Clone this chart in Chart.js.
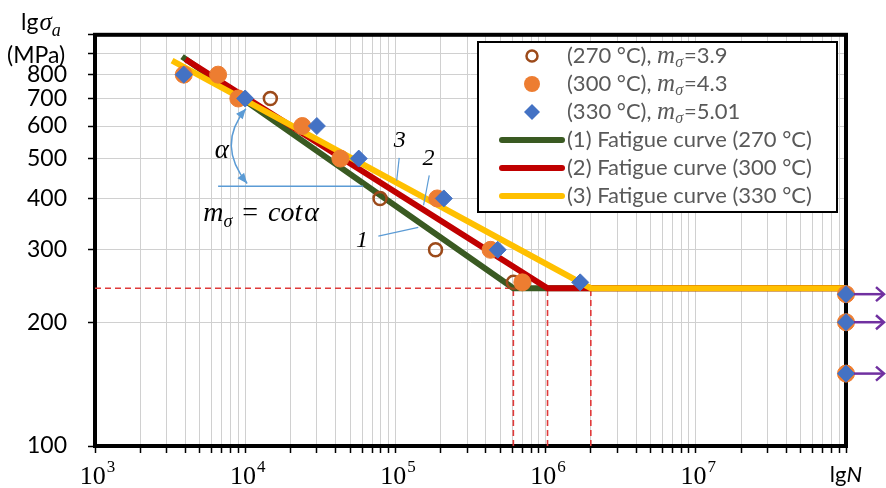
<!DOCTYPE html>
<html>
<head>
<meta charset="utf-8">
<script src="https://cdn.jsdelivr.net/npm/chart.js@4.4.1/dist/chart.umd.min.js"></script>
<style>
html, body { margin: 0; padding: 0; background: #fff; }
#wrap { width: 886px; height: 488px; }
</style>
</head>
<body>
<div id="wrap"><canvas id="chart" width="886" height="488"></canvas></div>
<script>
// test points: cycles to failure N and stress amplitude (MPa)
var brownN = [3.9e3, 1.47e4, 7.9e4, 1.85e5, 6.1e5];
var brownS = [800, 700, 400, 300, 250];
var orangeN = [3.9e3, 6.6e3, 9.0e3, 2.4e4, 4.3e4, 1.9e5, 4.3e5, 7.0e5, 1e8, 1e8, 1e8];
var orangeS = [800, 800, 700, 600, 500, 400, 300, 250, 234, 200, 150];
var blueN = [3.9e3, 1.0e4, 3.0e4, 5.7e4, 2.1e5, 4.8e5, 1.7e6, 1e8, 1e8, 1e8];
var blueS = [800, 700, 600, 500, 400, 300, 250, 234, 200, 150];

// fatigue curves (start, knee, end)
var curve1N = [3.8e3, 6.1e5, 1e8];
var curve1S = [885, 242, 242];
var curve2N = [4.0e3, 1.03e6, 1e8];
var curve2S = [872, 242, 242];
var curve3N = [3.26e3, 2.0e6, 1e8];
var curve3S = [865, 242, 242];

var enduranceLimit = 242;
var kneeN = [6.1e5, 1.03e6, 2.0e6];
var runOutN = 1e8;

var pointLabels = ['(270 \u00b0C), ', '(300 \u00b0C), ', '(330 \u00b0C), '];
var slopeValues = ['3.9', '4.3', '5.01'];
var curveLabels = ['(1) Fatigue curve (270 \u00b0C)', '(2) Fatigue curve (300 \u00b0C)', '(3) Fatigue curve (330 \u00b0C)'];

var yTicks = [100, 200, 300, 400, 500, 600, 700, 800, 900, 1000];
var yLabelMax = 800;
var xTicks = [];
[1e3, 1e4, 1e5, 1e6, 1e7].forEach(function(d) {
    for (var k = 1; k < 10; k++) xTicks.push(d * k);
});
xTicks.push(1e8);
var xDecades = [1e3, 1e4, 1e5, 1e6, 1e7];
var xDecadeExp = ['3', '4', '5', '6', '7'];

// annotation anchors in data space [N, MPa]
var refLine = { n0: 6.6e3, n1: 6.1e4, s: 428 };
var arcPts = [[1.01e4, 661], [6.4e3, 540], [1.03e4, 435]];
var alphaAt = [7.0e3, 523];
var formulaAt = [5.25e3, 368];
var curveTags = [
    { t: '1', at: [6.0e4, 316], from: [7.7e4, 324], to: [1.42e5, 340] },
    { t: '2', at: [1.66e5, 500], from: [1.68e5, 455], to: [1.54e5, 385] },
    { t: '3', at: [1.07e5, 553], from: [1.06e5, 502], to: [1.02e5, 442] }
];

var colors = {
    brown: '#9c4a1a', orange: '#ed7d31', blue: '#4472c4',
    green: '#3a5a22', red: '#c00000', yellow: '#ffc000',
    dash: '#e03a3a', note: '#5b9bd5', purple: '#7030a0', grid: '#d0d0d0'
};

function pairs(xs, ys) {
    return xs.map(function(x, i) { return { x: x, y: ys[i] }; });
}

function curveSet(label, xs, ys, color) {
    return { label: label, data: pairs(xs, ys), showLine: true, borderColor: color,
             borderWidth: 6, pointRadius: 0, borderCapStyle: 'butt' };
}

function dashSet(data) {
    return { label: '', data: data, showLine: true, borderColor: colors.dash, borderWidth: 1.6,
             borderDash: [6, 4], pointRadius: 0 };
}

var datasets = [
    { label: 'p330', data: pairs(blueN, blueS), pointStyle: 'rectRot', pointRadius: 8.5,
      backgroundColor: colors.blue, borderColor: colors.blue, borderWidth: 1, clip: false },
    { label: 'p300', data: pairs(orangeN, orangeS), pointStyle: 'circle', pointRadius: 8.5,
      backgroundColor: colors.orange, borderColor: colors.orange, borderWidth: 1, clip: false },
    { label: 'p270', data: pairs(brownN, brownS), pointStyle: 'circle', pointRadius: 6.5,
      backgroundColor: 'rgba(255,255,255,0)', borderColor: colors.brown, borderWidth: 2.5, clip: false },
    curveSet('c3', curve3N, curve3S, colors.yellow),
    curveSet('c2', curve2N, curve2S, colors.red),
    curveSet('c1', curve1N, curve1S, colors.green),
    dashSet([{ x: 1e3, y: enduranceLimit }, { x: kneeN[2], y: enduranceLimit }])
];
kneeN.forEach(function(n) {
    datasets.push(dashSet([{ x: n, y: 100 }, { x: n, y: enduranceLimit }]));
});

// draws frame, annotations, legend and the x labels
var decorPlugin = {
    id: 'decor',
    beforeDatasetsDraw: function(chart) {
        var a = chart.chartArea, ctx = chart.ctx;
        ctx.save();
        ctx.strokeStyle = '#000';
        ctx.lineWidth = 4;
        ctx.strokeRect(a.left, a.top, a.right - a.left, a.bottom - a.top);
        ctx.restore();
    },
    afterDatasetsDraw: function(chart) {
        var ctx = chart.ctx, xs = chart.scales.x, ys = chart.scales.y;
        function P(p) { return [xs.getPixelForValue(p[0]), ys.getPixelForValue(p[1])]; }

        ctx.save();
        // reference line and alpha arc
        ctx.strokeStyle = colors.note;
        ctx.fillStyle = colors.note;
        ctx.lineWidth = 1.5;
        var l0 = P([refLine.n0, refLine.s]), l1 = P([refLine.n1, refLine.s]);
        ctx.beginPath(); ctx.moveTo(l0[0], l0[1]); ctx.lineTo(l1[0], l1[1]); ctx.stroke();

        var a0 = P(arcPts[0]), ac = P(arcPts[1]), a2 = P(arcPts[2]);
        ctx.beginPath(); ctx.moveTo(a0[0], a0[1]); ctx.quadraticCurveTo(ac[0], ac[1], a2[0], a2[1]); ctx.stroke();
        [[a0, ac], [a2, ac]].forEach(function(e) {
            var tip = e[0], c = e[1];
            var ang = Math.atan2(tip[1] - c[1], tip[0] - c[0]);
            ctx.beginPath();
            ctx.moveTo(tip[0], tip[1]);
            ctx.lineTo(tip[0] - 11 * Math.cos(ang - 0.4), tip[1] - 11 * Math.sin(ang - 0.4));
            ctx.lineTo(tip[0] - 11 * Math.cos(ang + 0.4), tip[1] - 11 * Math.sin(ang + 0.4));
            ctx.closePath(); ctx.fill();
        });

        // curve number tags
        ctx.lineWidth = 1.2;
        curveTags.forEach(function(tg) {
            var f = P(tg.from), t = P(tg.to), at = P(tg.at);
            ctx.strokeStyle = colors.note;
            ctx.beginPath(); ctx.moveTo(f[0], f[1]); ctx.lineTo(t[0], t[1]); ctx.stroke();
            ctx.fillStyle = '#000';
            ctx.font = 'italic 24px "Liberation Serif"';
            ctx.textAlign = 'center'; ctx.textBaseline = 'middle';
            ctx.fillText(tg.t, at[0], at[1]);
        });

        // alpha and formula
        ctx.fillStyle = '#000';
        var al = P(alphaAt);
        ctx.font = 'italic 27px "Liberation Serif"';
        ctx.textAlign = 'center'; ctx.textBaseline = 'middle';
        ctx.fillText('\u03b1', al[0], al[1]);

        var fm = P(formulaAt), x = fm[0], y = fm[1] + 8;
        ctx.textAlign = 'left'; ctx.textBaseline = 'alphabetic';
        ctx.font = 'italic 28px "Liberation Serif"';
        ctx.fillText('m', x, y); x += ctx.measureText('m').width;
        ctx.font = 'italic 18px "Liberation Serif"';
        ctx.fillText('\u03c3', x, y + 6); x += ctx.measureText('\u03c3').width + 10;
        ctx.font = '28px "Liberation Serif"';
        ctx.fillText('=', x, y); x += ctx.measureText('=').width + 10;
        ctx.font = 'italic 28px "Liberation Serif"';
        ctx.fillText('cot', x, y); x += ctx.measureText('cot').width + 2;
        ctx.fillText('\u03b1', x, y);

        // run-out arrows
        ctx.strokeStyle = colors.purple; ctx.fillStyle = colors.purple;
        ctx.lineWidth = 2.5;
        blueN.forEach(function(n, i) {
            if (n !== runOutN) return;
            var p = P([n, blueS[i]]);
            var x0 = p[0] + 8, x1 = p[0] + 38;
            ctx.beginPath(); ctx.moveTo(x0, p[1]); ctx.lineTo(x1, p[1]); ctx.stroke();
            ctx.beginPath();
            ctx.moveTo(x1 - 8, p[1] - 7); ctx.lineTo(x1, p[1]); ctx.lineTo(x1 - 8, p[1] + 7);
            ctx.stroke();
        });
        ctx.restore();
    },
    afterDraw: function(chart) {
        var ctx = chart.ctx, xs = chart.scales.x;
        ctx.save();
        // x axis labels with superscripts
        ctx.fillStyle = '#000';
        ctx.textBaseline = 'alphabetic';
        ctx.textAlign = 'left';
        xDecades.forEach(function(v, i) {
            var px = xs.getPixelForValue(v);
            ctx.font = '26px "Liberation Serif"';
            var w1 = ctx.measureText('10').width;
            ctx.font = '17px "Liberation Serif"';
            var w2 = ctx.measureText(xDecadeExp[i]).width;
            var x0 = px - (w1 + w2) / 2 + 2;
            ctx.font = '26px "Liberation Serif"';
            ctx.fillText('10', x0, 484);
            ctx.font = '17px "Liberation Serif"';
            ctx.fillText(xDecadeExp[i], x0 + w1 + 1, 472);
        });
        var pN = xs.getPixelForValue(1e8);
        ctx.font = '22px Lato';
        var wlg = ctx.measureText('lg').width;
        ctx.font = 'italic 22px Lato';
        var wN = ctx.measureText('N').width;
        var xl = pN - (wlg + wN) / 2;
        ctx.font = '22px Lato';
        ctx.fillText('lg', xl, 482);
        ctx.font = 'italic 22px Lato';
        ctx.fillText('N', xl + wlg, 482);

        // y axis title
        ctx.font = '23px Lato';
        ctx.fillText('lg', 21, 30);
        var wl = ctx.measureText('lg').width;
        ctx.font = 'italic 25px "Liberation Serif"';
        ctx.fillText('\u03c3', 21 + wl + 1, 30);
        var ws = ctx.measureText('\u03c3').width;
        ctx.font = 'italic 18px "Liberation Serif"';
        ctx.fillText('a', 21 + wl + ws + 1, 36);
        ctx.font = '23px Lato';
        ctx.fillText('(MPa)', 7, 63);

        // legend
        var bx = 478, by = 42, bw = 359, bh = 170;
        ctx.fillStyle = '#fff';
        ctx.fillRect(bx, by, bw, bh);
        ctx.strokeStyle = '#000';
        ctx.lineWidth = 2;
        ctx.strokeRect(bx, by, bw, bh);
        var rowY = [56, 84, 112, 140, 168, 196];
        var mx = 532, tx = 567;
        // marker samples
        ctx.strokeStyle = colors.brown; ctx.lineWidth = 2.5;
        ctx.beginPath(); ctx.arc(mx, rowY[0], 5.5, 0, Math.PI * 2); ctx.stroke();
        ctx.fillStyle = colors.orange;
        ctx.beginPath(); ctx.arc(mx, rowY[1], 8, 0, Math.PI * 2); ctx.fill();
        ctx.fillStyle = colors.blue;
        ctx.beginPath();
        ctx.moveTo(mx, rowY[2] - 8); ctx.lineTo(mx + 8, rowY[2]); ctx.lineTo(mx, rowY[2] + 8); ctx.lineTo(mx - 8, rowY[2]);
        ctx.closePath(); ctx.fill();
        [colors.green, colors.red, colors.yellow].forEach(function(c, i) {
            ctx.strokeStyle = c; ctx.lineWidth = 6; ctx.lineCap = 'round';
            ctx.beginPath(); ctx.moveTo(502, rowY[3 + i]); ctx.lineTo(562, rowY[3 + i]); ctx.stroke();
        });
        ctx.lineCap = 'butt';
        // legend text, sized to the original width
        ctx.font = '20px Lato';
        var fs = 20 * 245 / ctx.measureText(curveLabels[2]).width;
        var sansFont = fs.toFixed(1) + 'px Lato';
        ctx.fillStyle = '#595959';
        ctx.textBaseline = 'middle';
        pointLabels.forEach(function(lbl, i) {
            var y = rowY[i], x = tx;
            ctx.font = sansFont;
            ctx.fillText(lbl, x, y); x += ctx.measureText(lbl).width;
            ctx.font = 'italic 25px "Liberation Serif"';
            ctx.fillText('m', x, y); x += ctx.measureText('m').width;
            ctx.font = 'italic 16px "Liberation Serif"';
            ctx.fillText('\u03c3', x, y + 7); x += ctx.measureText('\u03c3').width + 1;
            ctx.font = sansFont;
            ctx.fillText('=' + slopeValues[i], x, y);
        });
        curveLabels.forEach(function(lbl, i) {
            ctx.font = sansFont;
            ctx.fillText(lbl, tx, rowY[3 + i]);
        });
        ctx.restore();
    }
};

var ctx = document.getElementById('chart').getContext('2d');
var chart = new Chart(ctx, {
    type: 'scatter',
    data: { datasets: datasets },
    options: {
        responsive: false,
        animation: false,
        events: [],
        layout: { padding: { top: 34, right: 40, left: 0, bottom: 0 } },
        plugins: { legend: { display: false }, tooltip: { enabled: false } },
        scales: {
            x: {
                type: 'logarithmic',
                min: 1e3, max: 1e8,
                afterBuildTicks: function(scale) {
                    scale.ticks = xTicks.map(function(v) { return { value: v }; });
                },
                afterFit: function(scale) { scale.height = 42; },
                ticks: { display: false },
                border: { display: false },
                grid: {
                    color: function(c) {
                        var v = c.tick && c.tick.value;
                        return (v === 1e3 || v === 1e8) ? 'rgba(0,0,0,0)' : colors.grid;
                    },
                    lineWidth: 1, drawTicks: true, tickLength: 7, tickColor: '#000', tickWidth: 1.5
                }
            },
            y: {
                type: 'logarithmic',
                min: 100, max: 1000,
                afterBuildTicks: function(scale) {
                    scale.ticks = yTicks.map(function(v) { return { value: v }; });
                },
                afterFit: function(scale) { scale.width = 95; },
                ticks: {
                    padding: 21,
                    color: '#000',
                    font: { family: 'Lato', size: 23 },
                    callback: function(v) { return v <= yLabelMax ? String(v) : ''; }
                },
                border: { display: false },
                grid: {
                    color: function(c) {
                        var v = c.tick && c.tick.value;
                        return (v === 100 || v === 1000) ? 'rgba(0,0,0,0)' : colors.grid;
                    },
                    lineWidth: 1, drawTicks: true, tickLength: 7, tickColor: '#000', tickWidth: 1.5
                }
            }
        }
    },
    plugins: [decorPlugin]
});
</script>
</body>
</html>
